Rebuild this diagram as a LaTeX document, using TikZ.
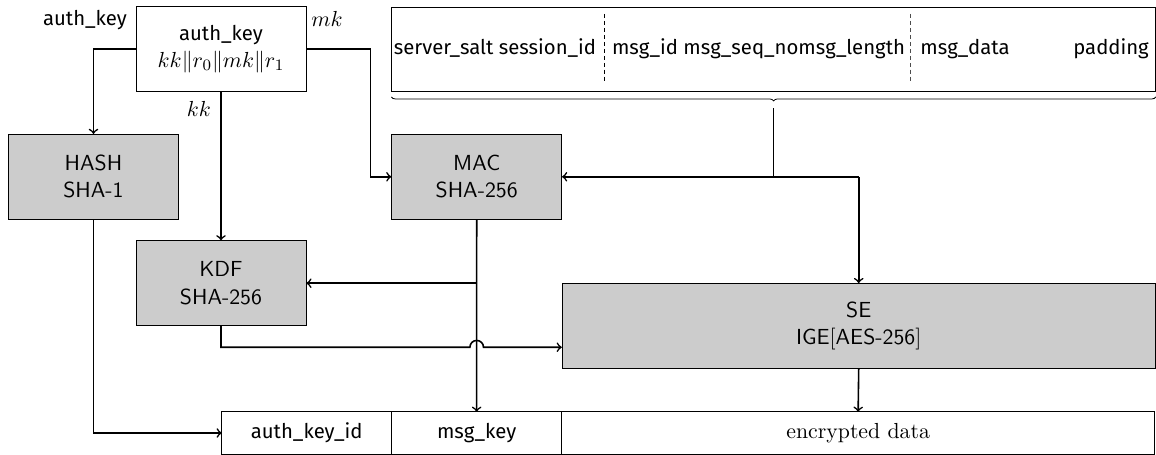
\documentclass[tikz,border=0pt]{standalone}
\usepackage{amsmath}
\usepackage{fontspec}
\newfontfamily\firasans{Fira Sans}
\usepackage{tikz}
\usetikzlibrary{positioning}
\usetikzlibrary{decorations.pathreplacing}

\begin{document}
\begin{tikzpicture}[x=0.017647cm, y=-0.017647cm, align=center,
        font=\fontsize{10.95}{13.6}\selectfont,
        prim/.style={draw, rectangle, fill=black!20, font=\sffamily\fontsize{10.95}{13.6}\selectfont,
            minimum width=3cm, minimum height=1.5cm, inner sep=0pt},
        field/.style={draw, rectangle, minimum height=0.75cm, inner sep=0pt, outer sep=0pt},
        fira/.style={font=\firasans\fontsize{10.2}{13.6}\selectfont}]
    \useasboundingbox (0,0) rectangle (1156,455);
    % key and its parts
    \node[draw, rectangle, minimum width=3cm, minimum height=1.5cm, inner sep=0pt] (key) at (221,49.2)
        {{\firasans\fontsize{10.2}{13.6}\selectfont auth\_key}\\$kk\|r_0\|mk\|r_1$};
    \node[fira, anchor=base] (keylabel) at (85,26) {auth\_key};
    \node[anchor=base] (mklabel) at (327,26.7) {$mk$};
    \node[anchor=base] (kklabel) at (199,116.7) {$kk$};
    % plaintext message
    \node[draw, rectangle, minimum width=13.48cm, minimum height=1.48cm, inner sep=0pt] (payload) at (773.6,49) {};
    \draw[dash pattern=on 2pt off 1.5pt] (604.3,14) -- (604.3,83);
    \draw[dash pattern=on 2pt off 1.5pt, black!70] (910.7,14) -- (910.7,83);
    \node[fira, anchor=base] (salt) at (495,55) {server\_salt session\_id};
    \node[fira, anchor=base] (msgid) at (758.5,55) {msg\_id msg\_seq\_nomsg\_length};
    \node[fira, anchor=base] (data) at (965,55) {msg\_data};
    \node[fira, anchor=base] (pad) at (1111,55) {padding};
    \draw[decorate, decoration={brace, mirror, amplitude=0.07cm}]
        ([yshift=-0.1cm]payload.south west) -- ([yshift=-0.1cm]payload.south east);
    \coordinate (merge) at ([yshift=-0.3cm]payload.south);
    % primitives
    \node[prim] (hash) at (93.5,176.8) {HASH\\SHA-1};
    \node[prim] (mac) at (476.7,176.8) {MAC\\SHA-256};
    \node[prim] (kdf) at (221,283.2) {KDF\\SHA-256};
    \node[prim, minimum width=10.47cm] (se) at (858.7,326) {SE\\IGE$[$AES-256$]$};
    % encrypted message
    \node[field, fira, minimum width=3cm] (akid) at (306.7,433) {auth\_key\_id};
    \node[field, fira, minimum width=3cm, right=0pt of akid] (msgkey) {msg\_key};
    \node[field, minimum width=10.47cm, right=0pt of msgkey] (enc) {encrypted data};
    % connections
    \draw[->, thick] (key.west) -| (hash.north);
    \draw[->, thick] (key.south) -- (kdf.north);
    \draw[->, thick] (key.east) -- ++(64,0) |- (mac.west);
    \draw[thick] (merge) -- (merge |- mac.east);
    \draw[->, thick] (se.north |- mac.east) -- (mac.east);
    \draw[->, thick] (se.north |- mac.east) -- (se.north);
    \draw[->, thick] (mac.south) -- (msgkey.north);
    \draw[->, thick] (mac.south |- kdf.east) -- (kdf.east);
    \coordinate (hop) at ([yshift=-0.375cm]se.west);
    \coordinate (cross) at (mac.south |- hop);
    \draw[->, thick] (kdf.south) |- ([xshift=-0.12cm]cross)
        arc[start angle=180, end angle=0, radius=0.12cm] -- (hop);
    \draw[->, thick] (hash.south) |- (akid.west);
    \draw[->, thick] (se.south) -- (enc.north);
\end{tikzpicture}
\end{document}
